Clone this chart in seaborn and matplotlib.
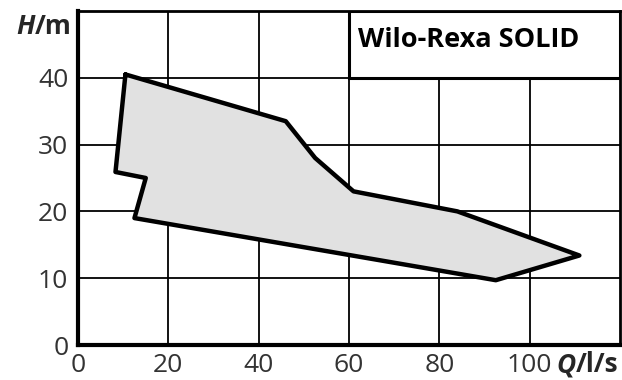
import matplotlib
matplotlib.use("Agg")
import matplotlib.pyplot as plt
import seaborn as sns
import pandas as pd
from matplotlib.patches import Rectangle

# operating range outline (Q in l/s, H in m)
q = [10.5, 46, 52.5, 61, 84, 111, 92.5, 12.5, 15, 8.3, 10.5]
h = [40.5, 33.5, 28, 23, 20, 13.4, 9.7, 19, 25, 25.9, 40.5]
x_ticks = [0, 20, 40, 60, 80, 100]
y_ticks = [0, 10, 20, 30, 40]
title = "Wilo-Rexa SOLID"

df = pd.DataFrame({"Q": q, "H": h})

sns.set_theme(style="white")
plt.rcParams["font.family"] = ["Open Sans", "DejaVu Sans"]

fig = plt.figure(figsize=(6.22, 3.80), dpi=100)
ax = fig.add_axes([0.1254, 0.0921, 0.8714, 0.879])

# grid
for gx in [20, 40, 60, 80, 100]:
    ax.axvline(gx, color="black", lw=1.3, zorder=1)
for gy in [10, 20, 30, 40]:
    ax.axhline(gy, color="black", lw=1.3, zorder=1)

ax.fill(df["Q"], df["H"], color="#e1e1e1", zorder=2)
sns.lineplot(data=df, x="Q", y="H", sort=False, estimator=None, color="black",
             lw=3.2, ax=ax, zorder=3)

# title box
ax.add_patch(Rectangle((60, 40), 60, 10, facecolor="white", edgecolor="black",
                       lw=2.2, zorder=4))
ax.text(62, 45.6, title, fontsize=19.5, fontweight="bold", va="center", ha="left",
        color="black", zorder=5)

ax.set_xlim(0, 120)
ax.set_ylim(0, 50)
ax.set_xticks(x_ticks)
ax.set_yticks(y_ticks)
ax.set_xticklabels([str(v) for v in x_ticks], fontsize=19, color="#333333")
ax.set_yticklabels([str(v) for v in y_ticks], fontsize=19, color="#333333")
ax.tick_params(axis="x", length=0, pad=6)
ax.tick_params(axis="y", length=0, pad=7)
ax.set_xlabel("")
ax.set_ylabel("")

for side in ["left", "bottom"]:
    ax.spines[side].set_linewidth(3)
for side in ["top", "right"]:
    ax.spines[side].set_linewidth(2)
for s in ax.spines.values():
    s.set_color("black")
    s.set_zorder(6)

# axis labels
fig.text(0.056, 0.93, "H", fontsize=19, fontweight="bold", fontstyle="italic",
         ha="right", va="center")
fig.text(0.056, 0.93, "/m", fontsize=19, fontweight="bold", ha="left", va="center")
fig.text(0.925, 0.04, "Q", fontsize=19, fontweight="bold", fontstyle="italic",
         ha="right", va="center")
fig.text(0.925, 0.04, "/l/s", fontsize=19, fontweight="bold", ha="left", va="center")

fig.savefig("out.png", dpi=100)
